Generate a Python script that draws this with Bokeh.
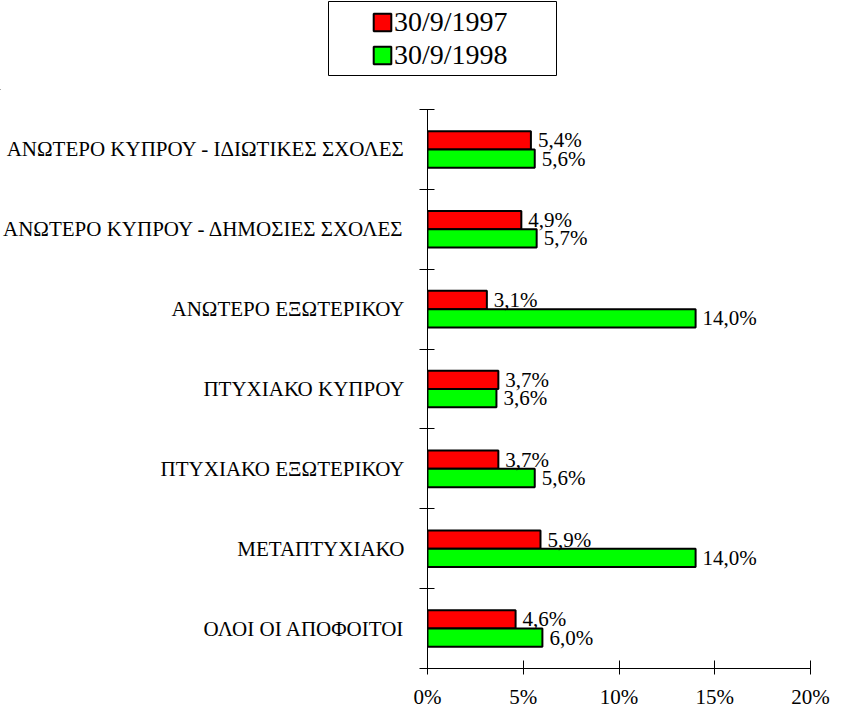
from bokeh.plotting import figure
from bokeh.layouts import column
from bokeh.models import FixedTicker, Legend, LegendItem, BoxAnnotation, Range1d, ColumnDataSource
from bokeh.core.properties import value
from bokeh.embed import file_html
from bokeh.resources import INLINE

# ---- data (bottom to top) ----
categories = [
    "ΟΛΟΙ ΟΙ ΑΠΟΦΟΙΤΟΙ",
    "ΜΕΤΑΠΤΥΧΙΑΚΟ",
    "ΠΤΥΧΙΑΚΟ ΕΞΩΤΕΡΙΚΟΥ",
    "ΠΤΥΧΙΑΚΟ ΚΥΠΡΟΥ",
    "ΑΝΩΤΕΡΟ ΕΞΩΤΕΡΙΚΟΥ",
    "ΑΝΩΤΕΡΟ ΚΥΠΡΟΥ - ΔΗΜΟΣΙΕΣ ΣΧΟΛΕΣ",
    "ΑΝΩΤΕΡΟ ΚΥΠΡΟΥ - ΙΔΙΩΤΙΚΕΣ ΣΧΟΛΕΣ",
]
values_1997 = [4.6, 5.9, 3.7, 3.7, 3.1, 4.9, 5.4]
values_1998 = [6.0, 14.0, 5.6, 3.6, 14.0, 5.7, 5.6]
series_names = ["30/9/1997", "30/9/1998"]
series_colors = ["#FF0000", "#00FF00"]
x_ticks = [0, 5, 10, 15, 20]
x_tick_labels = ["0%", "5%", "10%", "15%", "20%"]

FONT = "Times New Roman"


def fmt(v):
    return f"{v:.1f}".replace(".", ",") + "%"


n = len(categories)
centers = [i + 0.5 for i in range(n)]
bounds = list(range(n + 1))
bar_h = 0.229

# ---------------- legend strip ----------------
LW, LH = 831, 90
leg = figure(width=LW, height=LH, x_range=Range1d(0, LW), y_range=Range1d(0, LH),
             output_backend="svg", toolbar_location=None,
             min_border_left=0, min_border_right=0, min_border_top=0, min_border_bottom=0,
             x_axis_location=None, y_axis_location=None, frame_align=False,
             outline_line_color=None, background_fill_color="white", border_fill_color="white")
leg.grid.visible = False

# legend key renderers (their data lies far outside the strip's visible range)
dummy = []
for c in series_colors:
    dummy.append(leg.hbar(y=[-1000], right=[-999], left=-1000, height=1,
                          fill_color=c, line_color="black", line_width=2))

legend = Legend(
    items=[LegendItem(label=series_names[i], renderers=[dummy[i]]) for i in range(2)],
    location=(366, 14), orientation="vertical",
    label_text_font=FONT, label_text_font_size="28px", label_text_color="black",
    glyph_width=22, glyph_height=22, padding=5, spacing=1, label_standoff=1,
    border_line_alpha=0, background_fill_alpha=0,
)
leg.add_layout(legend, "center")

box = BoxAnnotation(left=328, right=556, top=LH - 1, bottom=LH - 75,
                    fill_color=None, line_color="black", line_width=1, line_alpha=1)
leg.add_layout(box)

# ---------------- main chart ----------------
src97 = ColumnDataSource(dict(y=[c + bar_h / 2 for c in centers], right=values_1997,
                              label=[fmt(v) for v in values_1997]))
src98 = ColumnDataSource(dict(y=[c - bar_h / 2 for c in centers], right=values_1998,
                              label=[fmt(v) for v in values_1998]))

p = figure(
    width=831, height=621,
    x_range=Range1d(0, 20), y_range=Range1d(0, 7),
    output_backend="svg", toolbar_location=None, frame_align=False,
    min_border_left=420, min_border_top=19, min_border_right=21, min_border_bottom=39,
    background_fill_color="white", border_fill_color="white", outline_line_color=None,
)

r97 = p.hbar(y="y", right="right", left=0, height=bar_h, source=src97,
             fill_color=series_colors[0], line_color="black", line_width=2)
r98 = p.hbar(y="y", right="right", left=0, height=bar_h, source=src98,
             fill_color=series_colors[1], line_color="black", line_width=2)

for src in (src97, src98):
    p.text(x="right", y="y", text="label", source=src, x_offset=7,
           text_baseline="middle", text_align="left",
           text_font=value(FONT), text_font_size="21px", text_color="black")

p.xgrid.visible = False
p.ygrid.visible = False

xa = p.xaxis[0]
xa.ticker = FixedTicker(ticks=x_ticks)
xa.major_label_overrides = dict(zip(x_ticks, x_tick_labels))
xa.major_tick_in = 8
xa.major_tick_out = 6
xa.minor_tick_line_color = None
xa.major_label_standoff = 10
xa.major_label_text_font = FONT
xa.major_label_text_font_size = "21px"
xa.major_label_text_color = "black"
xa.axis_line_color = "black"
xa.major_tick_line_color = "black"

ya = p.yaxis[0]
ya.ticker = FixedTicker(ticks=centers, minor_ticks=bounds)
ya.major_label_overrides = dict(zip(centers, categories))
ya.major_tick_in = 0
ya.major_tick_out = 0
ya.minor_tick_in = 7
ya.minor_tick_out = 8
ya.minor_tick_line_color = "black"
ya.major_label_standoff = 15
ya.major_label_text_font = FONT
ya.major_label_text_font_size = "21px"
ya.major_label_text_color = "black"
ya.axis_line_color = "black"

layout = column(leg, p, spacing=0)
open("out.html", "w").write(file_html(layout, INLINE))
